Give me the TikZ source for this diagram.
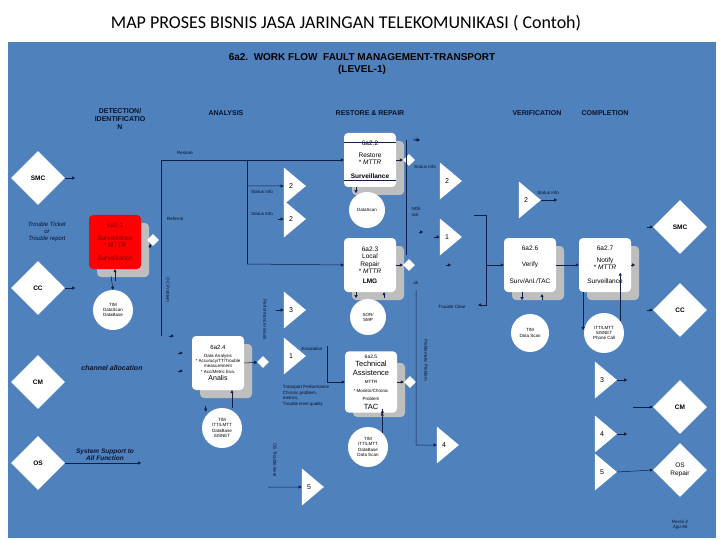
\documentclass[tikz,border=0pt]{standalone}
\usepackage{fontspec}
\setmainfont{Liberation Sans}
\newfontfamily\titlefont{Carlito}
\usetikzlibrary{shapes.geometric,arrows.meta}
\definecolor{panel}{RGB}{79,129,189}
\definecolor{lin}{RGB}{15,30,70}
\definecolor{shad}{RGB}{190,190,190}
\tikzset{
  hdr/.style={font=\fontsize{7}{8}\selectfont\bfseries,text=lin!60!black,align=center},
  dia/.style={diamond,fill=white,minimum size=#1,inner sep=0pt,font=\fontsize{6.5}{7.5}\selectfont\bfseries,align=center},
  sdia/.style={diamond,fill=white,minimum size=12pt,inner sep=0pt},
  tri/.style={isosceles triangle,isosceles triangle apex angle=80,fill=white,minimum height=22pt,inner sep=0pt,font=\fontsize{7}{8}\selectfont,anchor=center},
  circ/.style={circle,fill=white,minimum size=#1,inner sep=0pt,align=center,font=\fontsize{4.5}{5.2}\selectfont},
  box/.style={rounded corners=4pt,fill=white,minimum width=52pt,minimum height=54pt,align=center,font=\fontsize{6.5}{7.5}\selectfont},
  sh/.style={rounded corners=4pt,fill=shad,minimum width=52pt,minimum height=54pt},
  ln/.style={draw=lin,line width=0.5pt},
  ar/.style={ln,-{Triangle[length=3pt,width=3pt]}},
  lbl/.style={font=\fontsize{4.5}{5.5}\selectfont,text=lin!60!black,align=left},
}
\begin{document}
\begin{tikzpicture}[x=1pt,y=-1pt]
\useasboundingbox (0,0) rectangle (720,540);
\fill[white] (0,0) rectangle (720,540);
\node[font=\titlefont\fontsize{18}{20}\selectfont] (title) at (346,23) {MAP PROSES BISNIS JASA JARINGAN TELEKOMUNIKASI ( Contoh)};
\fill[panel] (8,42) rectangle (716,538);
\node[hdr,font=\fontsize{10}{12}\selectfont\bfseries,text=black] (h1) at (362,64) {6a2.\ \ WORK FLOW\ \ FAULT MANAGEMENT-TRANSPORT\\(LEVEL-1)};
\node[hdr] (c1) at (120,119) {DETECTION/\\IDENTIFICATIO\\N};
\node[hdr] (c2) at (226,113) {ANALYSIS};
\node[hdr] (c3) at (370,113) {RESTORE \& REPAIR};
\node[hdr] (c4) at (537,113) {VERIFICATION};
\node[hdr] (c5) at (605,113) {COMPLETION};
% left diamonds
\node[dia=54pt] (smcL) at (38,178) {SMC};
\node[dia=54pt] (ccL) at (38,288) {CC};
\node[dia=54pt] (cmL) at (38,382) {CM};
\node[dia=54pt] (osL) at (38,463) {OS};
\node[font=\fontsize{6}{7}\selectfont\itshape,align=center,text=lin!60!black] (tt) at (47,232) {Trouble Ticket\\or\\Trouble report};
\node[font=\fontsize{7}{8}\selectfont\bfseries\itshape,text=lin!70!black] (chan) at (112,368) {channel allocation};
\node[font=\fontsize{6.5}{7.5}\selectfont\bfseries\itshape,text=lin!70!black,align=center] (sys) at (105,455) {System Support to\\All Function};
% boxes with shadows
\foreach \n/\x/\y in {b1/115/242,b2/370/160,b3/370/265,b4/218/363,b5/371/382,b6/530/265,b7/605/265}{
  \node[sh] (\n s) at (\x+8,\y+8) {};}
\node[box,fill=red,text=red!50!black] (b1) at (115,242) {6a2.1\\[5pt]Surveillance\\* MTTR\\[5pt]Surveillance};
\node[box] (b2) at (370,160) {6a2.2\\[4pt]Restore\\* \textit{MTTR}\\[6pt]\textbf{Surveillance}};
\draw[lin] (b2.north west)++(0,9) -- ++(52,0);
\draw[lin] (b2.south west)++(0,-7) -- ++(52,0);
\node[box] (b3) at (370,265) {6a2.3\\Local\\Repair\\* \textit{MTTR}\\[2pt]\textbf{LMG}};
\node[box,font=\fontsize{4.5}{5.3}\selectfont] (b4) at (218,363) {\fontsize{6}{7}\selectfont 6a2.4\\[2pt]Data Analysis\\* Accuracy/TT/Trouble\\measurement\\* Acc/Metric Eva.\\[2pt]\fontsize{7}{8}\selectfont Analis};
\node[box,font=\fontsize{7.5}{8.5}\selectfont] (b5) at (371,382) {\fontsize{5}{6}\selectfont 6a2.5\\Technical\\Assistence\\\fontsize{4.5}{5}\selectfont MTTR\\\fontsize{4.5}{5}\selectfont * Monitor/Chronic\\\fontsize{4.5}{5}\selectfont Problem\\TAC};
\node[box] (b6) at (530,265) {6a2.6\\[8pt]Verify\\[10pt]Surv/Anl./TAC};
\node[box] (b7) at (605,265) {6a2.7\\[4pt]Notify\\* \textit{MTTR}\\[6pt]Surveillance};
% small diamonds
\node[sdia] (d1) at (153,240) {};
\node[sdia] (d2) at (409,160) {};
\node[sdia] (d3) at (409,265) {};
\node[sdia] (d4) at (263,362) {};
\node[sdia] (d5) at (410,382) {};
% circles
\node[circ=40pt] (k1) at (113,310) {TIM\\DataScan\\DataBase};
\node[circ=36pt] (k2) at (367,210) {DataScan};
\node[circ=36pt] (k3) at (368,317) {SOR/\\SMP};
\node[circ=40pt] (k4) at (222,428) {TIM\\ITT/LMTT\\DataBase\\SISNET};
\node[circ=40pt] (k5) at (368,447) {TIM\\ITT/LMTT\\DataBase\\Data Scan};
\node[circ=38pt] (k6) at (530,333) {TIM\\Data Scan};
\node[circ=40pt] (k7) at (604,333) {ITT/LMTT\\SISNET\\Phone Call};
% triangles
\node[tri] (t1) at (292,186) {2\ \ };
\node[tri] (t2) at (292,219) {2\ \ };
\node[tri] (t3) at (448,181) {2\ \ };
\node[tri] (t4) at (448,237) {1\ \ };
\node[tri] (t5) at (527,200) {2\ \ };
\node[tri] (t6) at (292,310) {3\ \ };
\node[tri] (t7) at (292,356) {1\ \ };
\node[tri] (t8) at (445,445) {4\ \ };
\node[tri] (t9) at (310,487) {5\ \ };
\node[tri] (t10) at (603,380) {3\ \ };
\node[tri] (t11) at (603,434) {4\ \ };
\node[tri] (t12) at (603,472) {5\ \ };
% right diamonds
\node[dia=54pt] (smcR) at (680,227) {SMC};
\node[dia=54pt] (ccR) at (680,310) {CC};
\node[dia=54pt] (cmR) at (680,407) {CM};
\node[dia=54pt,font=\fontsize{6.5}{7.5}\selectfont] (osR) at (680,470) {OS\\Repair};
% coordinates
\coordinate (v1t) at (161,160); \coordinate (v1b) at (161,336);
\coordinate (v2t) at (247,160); \coordinate (v2b) at (247,264);
\coordinate (v3t) at (406,140); \coordinate (v3b) at (406,255);
\coordinate (v4t) at (486,215); \coordinate (v4b) at (486,305);
\coordinate (e1) at (327,349); \coordinate (e2) at (327,382);
\coordinate (p1) at (416,290); \coordinate (p1b) at (416,445);
\coordinate (o1) at (268,487);
% connectors
\draw[ar] (smcL.east) -- ++(10,0);
\draw[ar] (ccL.east) -- ++(10,0);
\draw[ar] (b1s.east)++(0,-2) -- (d1);
\draw[ar] (b1.south)++(0,12) -- (b1.south);
\draw[ar] (k1.north)++(-2,-14) -- (k1.north);
\draw[ln] (v1t) -- (v1b);
\draw[ar] (v1t) -- (b2.west);
\draw[ln] (v2t) -- (v2b);
\draw[ar] (v2b) -- (b3.west);
\draw[ar] (v2t |- t1) -- (t1.west);
\draw[ar] (t2.west)++(-6,0) -- (t2.west);
\draw[ar] (v1b)++(8,0) -- ++(5,0);
\draw[ar] (b4.west)++(-14,-10) -- ++(5,0);
\draw[ar] (b4.west)++(-14,8) -- ++(5,0);
\draw[ar] (b4.east) -- (d4);
\draw[ar] (b2.east) -- (d2);
\draw[ar] (b3.east) -- (d3);
\draw[ar] (b5.east) -- (d5);
\draw[ln] (v3t) -- (v3b);
\draw[ar] (v3t)++(10,0) -- ++(4,0);
\draw[ar] (d3.east)++(4,-33) -- ++(4,0);
\draw[ar] (t4.west)++(-6,0) -- (t4.west);
\draw[ar] (v4t)++(-12,0) -- (v4t) -- (v4b) -- ++(-8,0);
\draw[ar] (v4t |- b6) ++(-40,0) -- ++(5,0);
\draw[ar] (v4t |- b6) -- (b6.west);
\draw[ar] (b6.east) -- (b7.west);
\draw[ar] (b7.east) -- ++(4,0);
\draw[ar] (t5.east) -- ++(16,0);
\draw[ar] (smcR.west)++(-6,0) -- (smcR.west);
\draw[ar] (ccR.west)++(-6,0) -- (ccR.west);
\draw[ar] (cmR.west)++(-20,0) -- (cmR.west);
\draw[ar] (t10.east) -- ++(10,0);
\draw[ar] (t11.east) -- ++(10,0);
\draw[ar] (t12.east) -- (osR.west);
\draw[ar] (t6.west)++(-8,0) -- (t6.west);
\draw[ar] (e1)++(0,-3) -- (e2) -- (b5.west);
\draw[ar] (p1) -- (p1b) -- (t8.west);
\draw[ar] (o1) -- (t9.west);
\draw[ar] (osL.east) -- ++(76,0);
% box <-> circle links
\draw[ar] (b4.south)++(14,18) -- ++(0,-18);
\draw[ar] (k4.north west)++(-2,-8) -- ++(0,6);
\draw[ar] (k5.north east)++(0,-24) -- ++(0,6);
\draw[ar] (k5.north east)++(0,0) -- ++(0,-20);
\draw[ar] (b6.south)++(-8,0) -- ++(0,8);
\draw[ar] (b6.south)++(12,8) -- ++(0,-6);
\draw[ar] (b7.south)++(-22,0) -- ++(0,38);
\draw[ar] (k7.north east)++(2,2) -- ++(0,-48);
\draw[ar] (b2.south)++(-14,0) -- ++(0,6);
\draw[ar] (b3.south)++(-14,0) -- ++(0,6);
\draw[ar] (b3.south)++(14,6) -- ++(0,-6);
% labels
\node[lbl] (l1) at (185,153) {Restore};
\node[lbl] (l2) at (175,219) {Referral};
\node[lbl] (l3) at (262,192) {Status Info};
\node[lbl] (l4) at (262,214) {Status Info};
\node[lbl] (l5) at (425,167) {Status Info};
\node[lbl] (l6) at (548,193) {Status Info};
\node[lbl] (l7) at (416,140) {ok};
\node[lbl] (l8) at (416,212) {NOk\\nck};
\node[lbl] (l9) at (416,283) {ok};
\node[lbl] (l10) at (452,307) {Trouble Clear};
\node[lbl] (l11) at (312,349) {Escalation};
\node[lbl] (l12) at (306,396) {Transport Performance\\Chronic problem,\\metrics,\\Trouble level quality};
\node[lbl,rotate=-90] (l13) at (168,290) {OC Problem};
\node[lbl,rotate=-90] (l14) at (265,320) {Performance Issues};
\node[lbl,rotate=-90] (l15) at (275,460) {OS Trouble level};
\node[lbl,rotate=-90] (l16) at (426,360) {Problematic Problem};
\node[lbl,font=\fontsize{4.5}{5.5}\selectfont\itshape,align=center] (rev) at (680,525) {Revisi-2\\Agu-95};
\end{tikzpicture}
\end{document}
